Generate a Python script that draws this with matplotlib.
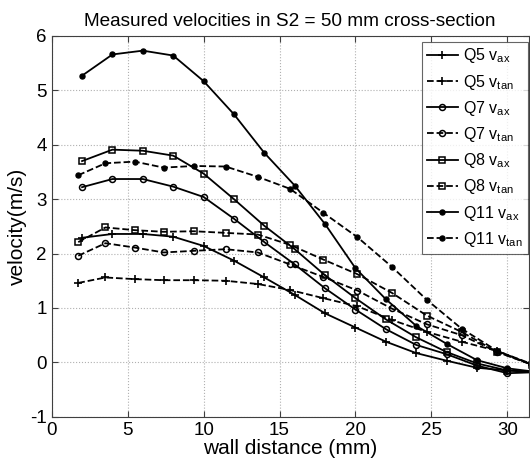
import matplotlib
matplotlib.use("Agg")
import matplotlib.pyplot as plt

plt.rcParams['font.family'] = ['Liberation Sans', 'DejaVu Sans']
plt.rcParams['mathtext.fontset'] = 'custom'
plt.rcParams['mathtext.rm'] = 'Liberation Sans'
plt.rcParams['axes.unicode_minus'] = False

# wall distance positions (mm)
x_ax = [2, 4, 6, 8, 10, 12, 14, 16, 18, 20, 22, 24, 26, 28, 30, 32]
x_tan = [1.75, 3.54, 5.47, 7.37, 9.37, 11.45, 13.57, 15.69, 17.88,
         20.13, 22.38, 24.69, 26.98, 29.33, 31.6]

# velocities (m/s)
q5_ax = [2.29, 2.36, 2.36, 2.31, 2.14, 1.87, 1.56, 1.24, 0.90, 0.64, 0.38, 0.17, 0.03, -0.10, -0.15, -0.18]
q5_tan = [1.46, 1.56, 1.53, 1.51, 1.51, 1.50, 1.44, 1.33, 1.18, 1.03, 0.78, 0.56, 0.38, 0.21, -0.04]
q7_ax = [3.22, 3.37, 3.37, 3.23, 3.04, 2.64, 2.21, 1.80, 1.36, 0.97, 0.61, 0.32, 0.15, -0.06, -0.20, -0.18]
q7_tan = [1.96, 2.19, 2.11, 2.02, 2.05, 2.08, 2.02, 1.80, 1.57, 1.32, 0.99, 0.70, 0.50, 0.19, -0.04]
q8_ax = [3.70, 3.91, 3.89, 3.80, 3.47, 3.00, 2.51, 2.08, 1.60, 1.18, 0.79, 0.46, 0.19, -0.02, -0.15, -0.18]
q8_tan = [2.21, 2.48, 2.43, 2.40, 2.41, 2.38, 2.35, 2.16, 1.89, 1.62, 1.28, 0.86, 0.56, 0.19, -0.04]
q11_ax = [5.27, 5.66, 5.73, 5.64, 5.17, 4.56, 3.85, 3.25, 2.54, 1.73, 1.16, 0.67, 0.34, 0.04, -0.11, -0.18]
q11_tan = [3.44, 3.66, 3.69, 3.58, 3.61, 3.60, 3.41, 3.19, 2.75, 2.30, 1.76, 1.15, 0.62, 0.21, -0.03]

fig = plt.figure(figsize=(5.3, 4.61), dpi=100)
ax = fig.add_axes([0.0975, 0.096, 0.9, 0.826])

series = [
    (x_ax, q5_ax, '-', '+', 'Q5 v$_{\\mathrm{ax}}$'),
    (x_tan, q5_tan, '--', '+', 'Q5 v$_{\\mathrm{tan}}$'),
    (x_ax, q7_ax, '-', 'o', 'Q7 v$_{\\mathrm{ax}}$'),
    (x_tan, q7_tan, '--', 'o', 'Q7 v$_{\\mathrm{tan}}$'),
    (x_ax, q8_ax, '-', 's', 'Q8 v$_{\\mathrm{ax}}$'),
    (x_tan, q8_tan, '--', 's', 'Q8 v$_{\\mathrm{tan}}$'),
    (x_ax, q11_ax, '-', '.', 'Q11 v$_{\\mathrm{ax}}$'),
    (x_tan, q11_tan, '--', '.', 'Q11 v$_{\\mathrm{tan}}$'),
]

for xs, ys, ls, mk, lab in series:
    if mk == '.':
        ax.plot(xs, ys, linestyle=ls, color='black', lw=1.3, marker='o',
                ms=3.6, mfc='black', mec='black', label=lab)
    elif mk == '+':
        ax.plot(xs, ys, linestyle=ls, color='black', lw=1.3, marker='+',
                ms=5.5, mew=1.2, label=lab)
    elif mk == 's':
        ax.plot(xs, ys, linestyle=ls, color='black', lw=1.3, marker='s',
                ms=3.9, mfc='none', mec='black', mew=1.1, label=lab)
    else:
        ax.plot(xs, ys, linestyle=ls, color='black', lw=1.3, marker='o',
                ms=4.3, mfc='none', mec='black', mew=1.1, label=lab)

ax.set_xlim(0, 31.4)
ax.set_ylim(-1, 6)
ax.set_xticks([0, 5, 10, 15, 20, 25, 30])
ax.set_yticks([-1, 0, 1, 2, 3, 4, 5, 6])
ax.grid(True, linestyle=':', color='#b0b0b0', linewidth=0.8)
ax.tick_params(labelsize=13.5, direction='in', length=4, top=True, right=True,
               color='#404040')
for s in ax.spines.values():
    s.set_color('#404040')

ax.set_xlabel('wall distance (mm)', fontsize=15, labelpad=0)
ax.set_ylabel('velocity(m/s)', fontsize=15, labelpad=2)
ax.set_title('Measured velocities in S2 = 50 mm cross-section', fontsize=13.7, pad=7)

leg = ax.legend(loc='upper right', bbox_to_anchor=(0.998, 0.985), fontsize=11.5,
                frameon=True, fancybox=False, edgecolor='#404040',
                handlelength=2.0, handletextpad=0.3, labelspacing=0.45,
                borderpad=0.3, borderaxespad=0)
leg.get_frame().set_linewidth(0.8)

fig.savefig('out.png', dpi=100)
